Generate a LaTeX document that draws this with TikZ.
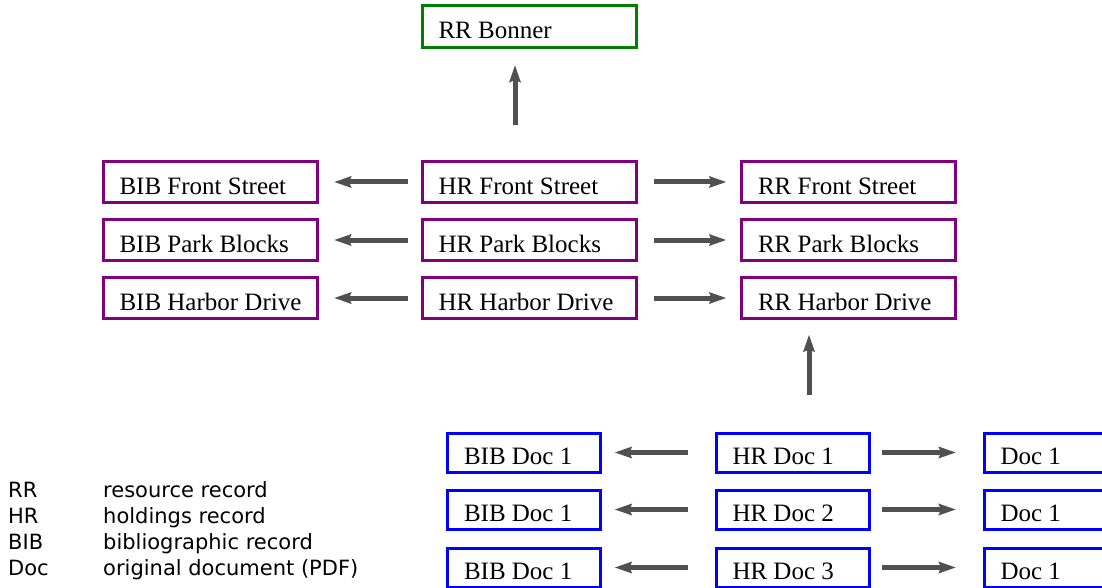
\documentclass[tikz,border=0pt]{standalone}
\usepackage{fontspec}
\setmainfont{Liberation Serif}
\newfontfamily\legendfont{DejaVu Sans}
\usetikzlibrary{arrows.meta}
\definecolor{boxpurple}{RGB}{128,0,128}
\definecolor{boxgreen}{RGB}{0,128,0}
\definecolor{boxblue}{RGB}{0,0,255}
\definecolor{arrgray}{RGB}{80,80,80}
\tikzset{
  rec/.style={draw=#1, line width=3pt, rectangle, inner xsep=16.5pt, inner ysep=0pt,
    text height=24pt, text depth=0pt,
    font=\fontsize{25pt}{28pt}\selectfont},
  leftfill/.style={execute at begin node={\hbox to #1\bgroup}, execute at end node={\hss\egroup}},
  topbox/.style={rec=boxpurple, minimum width=214pt, leftfill=181pt, minimum height=41pt},
  bonnerbox/.style={rec=boxgreen, minimum width=214pt, leftfill=181pt, minimum height=42pt},
  botbox/.style={rec=boxblue, minimum width=153pt, leftfill=120pt, minimum height=39pt},
  arr/.style={draw=arrgray, line width=5pt, -{Stealth[length=17pt,width=11pt,inset=2pt]}, arrgray},
  legend/.style={anchor=base west, inner sep=0pt, font=\legendfont\fontsize{21pt}{24pt}\selectfont}
}
\begin{document}
\begin{tikzpicture}[x=1pt,y=-1pt]
\useasboundingbox (0,0) rectangle (1102,588);
\clip (0,0) rectangle (1102,588);
% top
\node[bonnerbox] (bonner) at (529,27) {RR Bonner};
\node[topbox] (bibfs) at (210,182) {BIB Front Street};
\node[topbox] (bibpb) at (210,240) {BIB Park Blocks};
\node[topbox] (bibhd) at (210,298) {BIB Harbor Drive};
\node[topbox] (hrfs) at (529,182) {HR Front Street};
\node[topbox] (hrpb) at (529,240) {HR Park Blocks};
\node[topbox] (hrhd) at (529,298) {HR Harbor Drive};
\node[topbox] (rrfs) at (848.5,182) {RR Front Street};
\node[topbox] (rrpb) at (848.5,240) {RR Park Blocks};
\node[topbox] (rrhd) at (848.5,298) {RR Harbor Drive};
% bottom
\node[botbox] (bibd1) at (524,452.5) {BIB Doc 1};
\node[botbox] (bibd2) at (524,509.5) {BIB Doc 1};
\node[botbox] (bibd3) at (524,567.5) {BIB Doc 1};
\node[botbox] (hrd1) at (792.5,452.5) {HR Doc 1};
\node[botbox] (hrd2) at (792.5,509.5) {HR Doc 2};
\node[botbox] (hrd3) at (792.5,567.5) {HR Doc 3};
\node[botbox] (doc1) at (1060.5,452.5) {Doc 1};
\node[botbox] (doc2) at (1060.5,509.5) {Doc 1};
\node[botbox] (doc3) at (1060.5,567.5) {Doc 1};
% arrows top
\draw[arr, shorten <=34.5pt, shorten >=15.5pt] ([xshift=-14pt]hrfs.north) -- ([xshift=-14pt]bonner.south);
\foreach \a/\b in {hrfs/bibfs, hrpb/bibpb, hrhd/bibhd}
  \draw[arr, shorten <=12.5pt, shorten >=15.5pt] (\a.west) -- (\b.east);
\foreach \a/\b in {hrfs/rrfs, hrpb/rrpb, hrhd/rrhd}
  \draw[arr, shorten <=16.5pt, shorten >=13.5pt] (\a.east) -- (\b.west);
% up arrow
\draw[arr, shorten <=36.5pt, shorten >=14.5pt] ([xshift=16.5pt]hrd1.north) -- ([xshift=16.5pt]hrd1.north |- rrhd.south);
% arrows bottom
\foreach \a/\b in {hrd1/bibd1, hrd2/bibd2, hrd3/bibd3}
  \draw[arr, shorten <=26.5pt, shorten >=12.5pt] (\a.west) -- (\b.east);
\foreach \a/\b in {hrd1/doc1, hrd2/doc2, hrd3/doc3}
  \draw[arr, shorten <=11.5pt, shorten >=26.5pt] (\a.east) -- (\b.west);
% legend
\node[legend] (l1a) at (8,497) {RR};
\node[legend] (l1b) at (103,497) {resource record};
\node[legend] (l2a) at (8,523) {HR};
\node[legend] (l2b) at (103,523) {holdings record};
\node[legend] (l3a) at (8,549) {BIB};
\node[legend] (l3b) at (103,549) {bibliographic record};
\node[legend] (l4a) at (8,575) {Doc};
\node[legend] (l4b) at (103,575) {original document (PDF)};
\end{tikzpicture}
\end{document}
